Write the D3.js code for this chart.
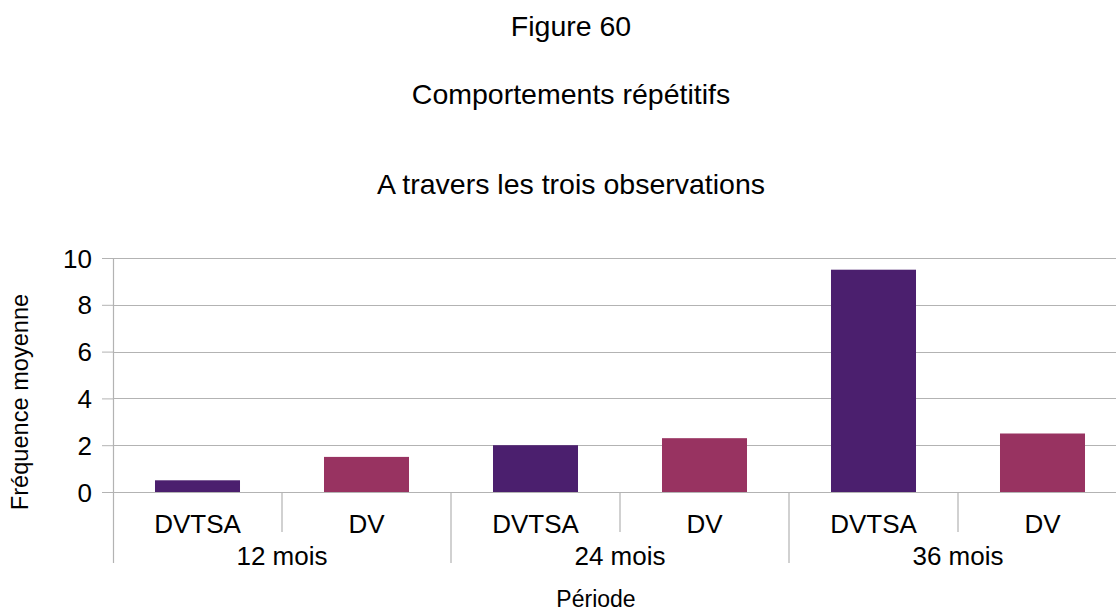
<!DOCTYPE html>
<html>
<head>
<meta charset="utf-8">
<script src="https://cdn.jsdelivr.net/npm/d3@7"></script>
<style>
  html, body { margin: 0; padding: 0; background: #fff; }
  svg { display: block; font-family: "Liberation Sans", Arial, sans-serif; }
</style>
</head>
<body>
<svg id="chart" width="1116" height="613"></svg>
<script>
// Mean frequency of repetitive behaviours per observation period
const periods = ["12 mois", "24 mois", "36 mois"];
const groups = ["DVTSA", "DV"];
const dvtsaValues = [0.5, 2.0, 9.5];
const dvValues = [1.5, 2.3, 2.5];
const yTicks = [0, 2, 4, 6, 8, 10];
const groupColors = ["#4b1f6e", "#983361"];

const titles = ["Figure 60", "Comportements répétitifs", "A travers les trois observations"];
const yTitle = "Fréquence moyenne";
const xTitle = "Période";

const svg = d3.select("#chart");
const W = 1116, H = 613;
const plot = { left: 113, right: 1127, top: 258, bottom: 492 };

// one slot per (period, group) pair
const rows = [];
periods.forEach((p, i) => {
  rows.push({ period: p, group: groups[0], value: dvtsaValues[i], key: p + "|" + groups[0] });
  rows.push({ period: p, group: groups[1], value: dvValues[i], key: p + "|" + groups[1] });
});

const x = d3.scaleBand()
  .domain(rows.map(d => d.key))
  .range([plot.left, plot.right])
  .paddingInner(0.497)
  .paddingOuter(0.2485);
const step = x.step();

const y = d3.scaleLinear().domain([0, 10]).range([plot.bottom, plot.top]);
const color = d3.scaleOrdinal().domain(groups).range(groupColors);

const gridColor = "#b3b3b3";

// y axis ticks and labels
const yAxis = svg.append("g")
  .attr("transform", `translate(${plot.left},0)`)
  .call(d3.axisLeft(y).tickValues(yTicks).tickFormat(d3.format("d")).tickSize(11).tickPadding(10));
yAxis.select(".domain").remove();
yAxis.selectAll(".tick line").attr("stroke", gridColor);
yAxis.selectAll(".tick text").attr("font-size", 26).attr("fill", "#000").attr("dy", "0.35em");

// horizontal gridlines
svg.append("g")
  .selectAll("line")
  .data(yTicks)
  .join("line")
  .attr("x1", plot.left).attr("x2", W)
  .attr("y1", d => Math.round(y(d)) + 0.5).attr("y2", d => Math.round(y(d)) + 0.5)
  .attr("stroke", gridColor).attr("stroke-width", 1.2);

// vertical axis line continued down through the category area
svg.append("line")
  .attr("x1", plot.left + 0.5).attr("x2", plot.left + 0.5)
  .attr("y1", plot.top).attr("y2", 563)
  .attr("stroke", gridColor).attr("stroke-width", 1.2);

// separators between subcategories (short) and between periods (long)
const seps = d3.range(1, rows.length).map(i => ({ x: plot.left + i * step, long: i % 2 === 0 }));
svg.append("g")
  .selectAll("line")
  .data(seps)
  .join("line")
  .attr("x1", d => d.x).attr("x2", d => d.x)
  .attr("y1", plot.bottom)
  .attr("y2", d => d.long ? 563 : 532)
  .attr("stroke", gridColor).attr("stroke-width", 1.2);

// bars
svg.append("g")
  .selectAll("rect")
  .data(rows)
  .join("rect")
  .attr("x", d => x(d.key))
  .attr("y", d => y(d.value))
  .attr("width", x.bandwidth())
  .attr("height", d => y(0) - y(d.value))
  .attr("fill", d => color(d.group));

// subcategory labels
svg.append("g")
  .selectAll("text")
  .data(rows)
  .join("text")
  .attr("x", d => x(d.key) + x.bandwidth() / 2)
  .attr("y", 533)
  .attr("text-anchor", "middle")
  .attr("font-size", 26)
  .text(d => d.group);

// period labels
svg.append("g")
  .selectAll("text")
  .data(periods)
  .join("text")
  .attr("x", (d, i) => plot.left + (2 * i + 1) * step)
  .attr("y", 565)
  .attr("text-anchor", "middle")
  .attr("font-size", 26)
  .text(d => d);

// titles
const titleY = [36, 104, 194];
svg.append("g")
  .selectAll("text")
  .data(titles)
  .join("text")
  .attr("x", 571)
  .attr("y", (d, i) => titleY[i])
  .attr("text-anchor", "middle")
  .attr("font-size", 28.5)
  .text(d => d);

// axis titles
svg.append("text")
  .attr("x", 596).attr("y", 607)
  .attr("text-anchor", "middle")
  .attr("font-size", 23)
  .text(xTitle);

svg.append("text")
  .attr("transform", "translate(28,402) rotate(-90)")
  .attr("text-anchor", "middle")
  .attr("font-size", 23.6)
  .text(yTitle);
</script>
</body>
</html>
